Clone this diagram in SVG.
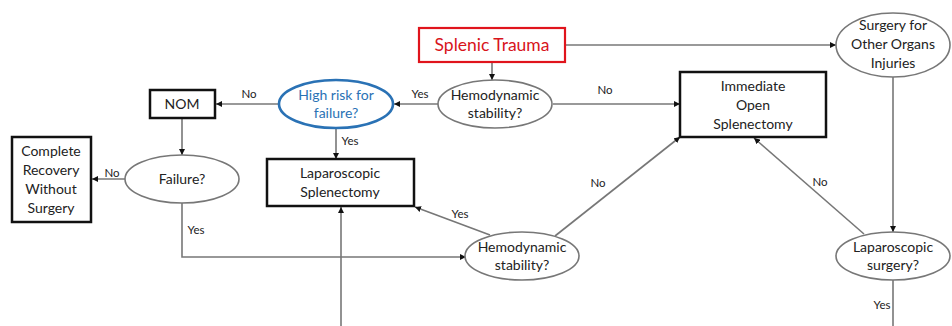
<svg xmlns="http://www.w3.org/2000/svg" width="952" height="326" viewBox="0 0 952 326">
<defs>
<marker id="ah" viewBox="0 0 10 10" refX="10" refY="5" markerWidth="6" markerHeight="6" orient="auto" markerUnits="userSpaceOnUse"><path d="M0,0 L10,5 L0,10 z" fill="#111"/></marker>
</defs>
<style>
text{font-family:Lato,"Open Sans","Liberation Sans",sans-serif;font-size:14px;fill:#222;text-anchor:middle}
.box{fill:#fff;stroke:#111;stroke-width:2.5}
.ell{fill:#fff;stroke:#777;stroke-width:1.6}
.con{fill:none;stroke:#777;stroke-width:1.6}
.arr{marker-end:url(#ah)}
.lbl{font-size:11.5px}
</style>
<rect width="952" height="326" fill="#fff"/>
<g id="connectors">
<path class="con arr" d="M492,62 V80"/>
<path class="con arr" d="M565,45 H836"/>
<path class="con arr" d="M438,104 H394"/>
<path class="con arr" d="M553,104 H680"/>
<path class="con arr" d="M279,104 H216"/>
<path class="con arr" d="M336,128 V159"/>
<path class="con arr" d="M182,118 V155"/>
<path class="con arr" d="M125,179 H92"/>
<path class="con arr" d="M182,203 V257 H466"/>
<path class="con arr" d="M490,235 L415,207"/>
<path class="con arr" d="M555,236 L680,137"/>
<path class="con arr" d="M341,326 V207"/>
<path class="con arr" d="M893,77 V232"/>
<path class="con arr" d="M864,234 L754,138"/>
<path class="con" d="M893,280 V326"/>
<text class="lbl" x="420" y="98">Yes</text>
<text class="lbl" x="605" y="94">No</text>
<text class="lbl" x="249" y="98">No</text>
<text class="lbl" x="350" y="145">Yes</text>
<text class="lbl" x="112" y="177">No</text>
<text class="lbl" x="196" y="234">Yes</text>
<text class="lbl" x="460" y="218">Yes</text>
<text class="lbl" x="598" y="187">No</text>
<text class="lbl" x="820" y="186">No</text>
<text class="lbl" x="882" y="309">Yes</text>
</g>
<g id="splenic-trauma">
<rect x="419" y="28" width="146" height="34" fill="#fff" stroke="#e0141c" stroke-width="2.2"/>
<text x="492" y="51" style="font-size:17.5px;fill:#d8141c">Splenic Trauma</text>
</g>
<g id="hemo1">
<ellipse class="ell" cx="495" cy="104" rx="57" ry="24"/>
<text x="495" y="100">Hemodynamic</text>
<text x="495" y="118">stability?</text>
</g>
<g id="high-risk">
<ellipse cx="336" cy="104" rx="57" ry="24" fill="#fff" stroke="#2a72b5" stroke-width="2.6"/>
<text x="336" y="100" style="fill:#2a72b5">High risk for</text>
<text x="336" y="118" style="fill:#2a72b5">failure?</text>
</g>
<g id="nom">
<rect class="box" x="150" y="90" width="65" height="28"/>
<text x="182" y="109">NOM</text>
</g>
<g id="failure">
<ellipse class="ell" cx="182" cy="179" rx="57" ry="24"/>
<text x="182" y="184">Failure?</text>
</g>
<g id="complete-recovery">
<rect class="box" x="12" y="137" width="79" height="85"/>
<text x="51" y="156">Complete</text>
<text x="51" y="175">Recovery</text>
<text x="51" y="194">Without</text>
<text x="51" y="213">Surgery</text>
</g>
<g id="lap-splenectomy">
<rect class="box" x="267" y="159" width="147" height="47"/>
<text x="340" y="178">Laparoscopic</text>
<text x="340" y="197">Splenectomy</text>
</g>
<g id="hemo2">
<ellipse class="ell" cx="522" cy="256" rx="57" ry="24"/>
<text x="522" y="252">Hemodynamic</text>
<text x="522" y="270">stability?</text>
</g>
<g id="immediate-open">
<rect class="box" x="680" y="72" width="146" height="65"/>
<text x="753" y="91">Immediate</text>
<text x="753" y="110">Open</text>
<text x="753" y="129">Splenectomy</text>
</g>
<g id="surgery-other">
<ellipse class="ell" cx="893" cy="45" rx="57" ry="32"/>
<text x="893" y="30">Surgery for</text>
<text x="893" y="49">Other Organs</text>
<text x="893" y="68">Injuries</text>
</g>
<g id="lap-surgery">
<ellipse class="ell" cx="893" cy="256" rx="57" ry="24"/>
<text x="893" y="252">Laparoscopic</text>
<text x="893" y="270">surgery?</text>
</g>
</svg>
